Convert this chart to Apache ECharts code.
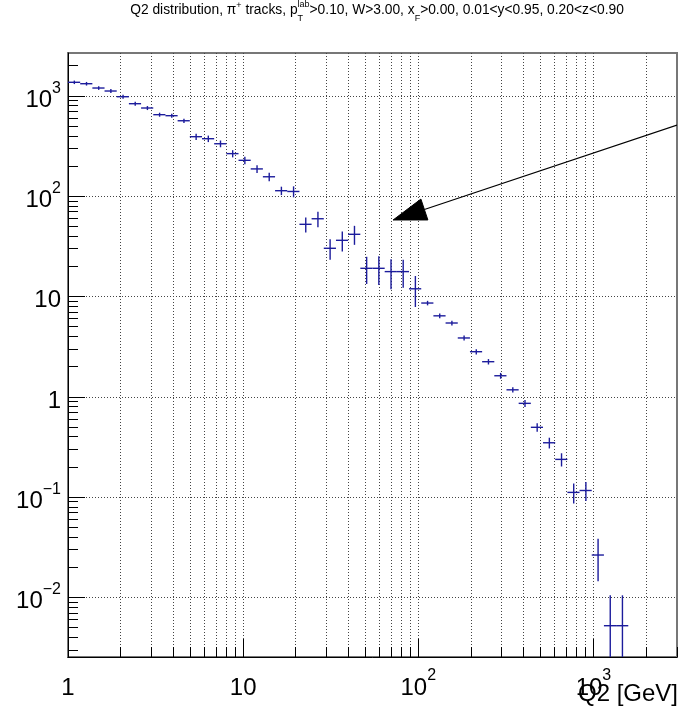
<!DOCTYPE html>
<html><head><meta charset="utf-8">
<script src="https://cdn.jsdelivr.net/npm/echarts@6/dist/echarts.min.js"></script>
<style>html,body{margin:0;padding:0;background:#fff}#c{width:680px;height:710px}</style>
</head><body><div id="c"></div>
<script>
// ---- data ----
const binEdges = [1, 1.1737, 1.3775, 1.6167, 1.8974, 2.2268, 2.6137, 3.0676, 3.6004, 4.2259,
  4.9593, 5.8206, 6.8314, 8.0178, 9.4101, 11.0447, 12.963, 15.214, 17.856, 20.957,
  24.595, 28.866, 33.879, 39.763, 46.669, 54.772, 64.284, 75.448, 88.551, 103.93,
  121.98, 143.16, 168.02, 197.20, 231.44, 271.63, 318.80, 374.17, 439.15, 515.41,
  604.92, 709.96, 833.26, 977.97, 1147.8, 1347.1, 1581.1];
const counts = [1373, 1329, 1204, 1124, 986, 840, 761, 653, 638, 568,
  394, 376, 335, 267, 229, 188, 157, 114, 112, 52.7,
  59.9, 30.4, 36.5, 41.9, 19.2, 19.2, 17.8, 17.8, 12.0, 8.65,
  6.45, 5.47, 3.88, 2.83, 2.25, 1.63, 1.18, 0.865, 0.499, 0.350,
  0.239, 0.112, 0.117, 0.0266, 0.00525, 0.00525];
const errors = [55, 55, 50, 50, 45, 40, 35, 30, 30, 28,
  28, 28, 26, 22, 20, 17, 15, 11, 14, 9,
  10.5, 7, 8.3, 9, 5.8, 6.1, 5.9, 5.5, 4.1, 0.45,
  0.35, 0.3, 0.22, 0.17, 0.14, 0.11, 0.07, 0.07, 0.048, 0.043,
  0.036, 0.025, 0.025, 0.012, 0.0053, 0.0053];
const xMajorTicks = [1, 10, 100, 1000];
const xMinorTicks = [2,3,4,5,6,7,8,9, 20,30,40,50,60,70,80,90, 200,300,400,500,600,700,800,900, 2000,3000];
const yMajorTicks = [0.01, 0.1, 1, 10, 100, 1000];
const yMinorTicks = [0.003,0.004,0.005,0.006,0.007,0.008,0.009, 0.02,0.03,0.04,0.05,0.06,0.07,0.08,0.09,
  0.2,0.3,0.4,0.5,0.6,0.7,0.8,0.9, 2,3,4,5,6,7,8,9, 20,30,40,50,60,70,80,90, 200,300,400,500,600,700,800,900, 2000];
const xRange = [1, 3000];
const yRange = [0.00256, 2690];
const arrowFrom = [3000, 515];
const arrowTo = [71.8, 58.2];

// ---- styles ----
const FONT = '"Liberation Sans", Arial, Helvetica, sans-serif';
const markColor = '#1c1c9c';
const markWidth = 1.4;

const chart = echarts.init(document.getElementById('c'), null, {renderer: 'canvas'});

function crisp(v){ return Math.round(v - 0.5) + 0.5; }

function labelFmt(value){
  const l = Math.log10(value);
  const k = Math.round(l);
  if (Math.abs(l - k) > 1e-6) return '';
  if (k === 0) return '{b|1}';
  if (k === 1) return '{b|10}';
  return '{b|10}{s|' + (k < 0 ? '\u2212' + (-k) : k) + '}';
}
const labelRich = {
  b: {fontSize: 24, fontFamily: FONT, color: '#000', lineHeight: 32, verticalAlign: 'bottom'},
  s: {fontSize: 16, fontFamily: FONT, color: '#000', lineHeight: 32, verticalAlign: 'top'}
};

const binData = counts.map((v, i) => [binEdges[i], binEdges[i + 1], v, errors[i]]);
const xTickData = xMajorTicks.map(v => [v, 1, 1]).concat(xMinorTicks.map(v => [v, 1, 0]));
const yTickData = yMajorTicks.map(v => [1, v, 1]).concat(yMinorTicks.map(v => [1, v, 0]));

const gridStyle = {stroke: '#444', lineWidth: 1, lineDash: [1, 2]};
const tickStyle = {stroke: '#000', lineWidth: 1};

// ---- title pieces ----
const ctx = document.createElement('canvas').getContext('2d');
function tw(t, size){ ctx.font = size + 'px ' + FONT; return ctx.measureText(t).width; }
const TF = 13.8, TS = 9;
const titleParts = [
  {t: 'Q2 distribution, \u03c0', s: TF, y: 10},
  {t: '+', s: TS, y: 6},
  {t: ' tracks, p', s: TF, y: 10},
  {stack: [{t: 'lab', s: TS, y: 5}, {t: 'T', s: TS, y: 19}]},
  {t: '>0.10, W>3.00, x', s: TF, y: 10},
  {t: 'F', s: TS, y: 19},
  {t: '>0.00, 0.01<y<0.95, 0.20<z<0.90', s: TF, y: 10}
];
let totalW = 0;
titleParts.forEach(p => {
  p.w = p.stack ? Math.max(...p.stack.map(q => tw(q.t, q.s))) : tw(p.t, p.s);
  totalW += p.w;
});
const titleCenter = 377;
let cx = titleCenter - totalW / 2;
const titleEls = [];
titleParts.forEach(p => {
  const items = p.stack || [p];
  items.forEach(q => titleEls.push({type: 'text', x: cx, y: q.y,
    style: {text: q.t, font: q.s + 'px ' + FONT, fill: '#000', verticalAlign: 'middle', align: 'left'}}));
  cx += p.w;
});

const option = {
  animation: false,
  backgroundColor: '#fff',
  grid: {left: 68, right: 1, top: 53, bottom: 53, show: true, borderColor: '#777', borderWidth: 2, backgroundColor: 'transparent'},
  xAxis: {
    type: 'log', logBase: 10, min: xRange[0], max: xRange[1],
    axisLine: {show: true, onZero: false, lineStyle: {color: '#000', width: 1}},
    axisTick: {show: false}, splitLine: {show: false}, minorTick: {show: false},
    axisLabel: {formatter: labelFmt, rich: labelRich, margin: 11, showMinLabel: true, showMaxLabel: true}
  },
  yAxis: {
    type: 'log', logBase: 10, min: yRange[0], max: yRange[1],
    axisLine: {show: true, onZero: false, lineStyle: {color: '#000', width: 1}},
    axisTick: {show: false}, splitLine: {show: false}, minorTick: {show: false},
    axisLabel: {formatter: labelFmt, rich: labelRich, margin: 7}
  },
  graphic: [
    {type: 'group', children: titleEls},
    {type: 'text', x: 678, y: 694, style: {text: 'Q2 [GeV]', font: '24px ' + FONT, fill: '#000', align: 'right', verticalAlign: 'middle'}}
  ],
  series: [
    {
      type: 'custom', name: 'xticks', silent: true, clip: false, data: xTickData,
      renderItem: function(params, api){
        const cs = params.coordSys;
        const p = api.coord([api.value(0), api.value(1)]);
        const x = crisp(p[0]);
        const yb = cs.y + cs.height, yt = cs.y;
        const major = api.value(2) === 1;
        const ch = [];
        if (x > cs.x + 1 && x < cs.x + cs.width - 1) ch.push({type: 'line', shape: {x1: x, y1: yt, x2: x, y2: yb}, style: gridStyle});
        ch.push({type: 'line', shape: {x1: x, y1: yb, x2: x, y2: yb - (major ? 18 : 10)}, style: tickStyle});
        return {type: 'group', children: ch};
      }
    },
    {
      type: 'custom', name: 'yticks', silent: true, clip: false, data: yTickData,
      renderItem: function(params, api){
        const cs = params.coordSys;
        const p = api.coord([api.value(0), api.value(1)]);
        const y = crisp(p[1]);
        const xl = cs.x, xr = cs.x + cs.width;
        const major = api.value(2) === 1;
        const ch = [];
        if (major) ch.push({type: 'line', shape: {x1: xl, y1: y, x2: xr, y2: y}, style: gridStyle});
        ch.push({type: 'line', shape: {x1: xl, y1: y, x2: xl + (major ? 17 : 10), y2: y}, style: tickStyle});
        return {type: 'group', children: ch};
      }
    },
    {
      type: 'custom', name: 'Q2', silent: true, clip: true, data: binData,
      renderItem: function(params, api){
        const cs = params.coordSys;
        const lo = api.value(0), hi = api.value(1), v = api.value(2), e = api.value(3);
        const c = (lo + hi) / 2;
        const pL = api.coord([lo, v]), pR = api.coord([hi, v]), pC = api.coord([c, v]);
        const yTop = api.coord([c, v + e])[1];
        const yBot = (v - e) > yRange[0] ? api.coord([c, v - e])[1] : cs.y + cs.height;
        const st = {stroke: markColor, lineWidth: markWidth};
        return {type: 'group', children: [
          {type: 'line', shape: {x1: pL[0], y1: pC[1], x2: pR[0], y2: pC[1]}, style: st},
          {type: 'line', shape: {x1: pC[0], y1: yTop, x2: pC[0], y2: yBot}, style: st}
        ]};
      }
    },
    {
      type: 'custom', name: 'arrow', silent: true, clip: true,
      data: [[arrowFrom[0], arrowFrom[1], arrowTo[0], arrowTo[1]]],
      renderItem: function(params, api){
        const a = api.coord([api.value(0), api.value(1)]);
        const b = api.coord([api.value(2), api.value(3)]);
        const dx = b[0] - a[0], dy = b[1] - a[1];
        const len = Math.sqrt(dx * dx + dy * dy);
        const ux = dx / len, uy = dy / len;
        const hl = 33, hw = 11;
        const bx = b[0] - ux * hl, by = b[1] - uy * hl;
        return {type: 'group', children: [
          {type: 'line', shape: {x1: a[0], y1: a[1], x2: bx, y2: by}, style: {stroke: '#000', lineWidth: 1.2}},
          {type: 'polygon', shape: {points: [[b[0], b[1]], [bx - uy * hw, by + ux * hw], [bx + uy * hw, by - ux * hw]]}, style: {fill: '#000', stroke: '#000', lineWidth: 1}}
        ]};
      }
    }
  ]
};
chart.setOption(option);
</script>
</body></html>
